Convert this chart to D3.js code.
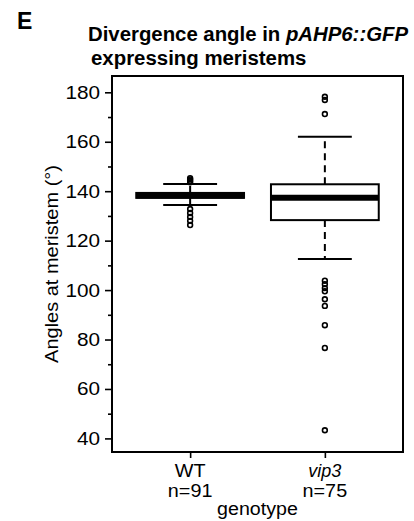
<!DOCTYPE html>
<html>
<head>
<meta charset="utf-8">
<script src="https://cdn.jsdelivr.net/npm/d3@7"></script>
<style>
  html, body { margin: 0; padding: 0; background: #fff; }
  svg { display: block; font-family: "Liberation Sans", Arial, Helvetica, sans-serif; }
</style>
</head>
<body>
<svg id="chart" width="414" height="521"></svg>
<script>
// ---- data ----
const categories = ["WT", "vip3"];
const sampleSizes = ["n=91", "n=75"];
const q1 = [137.3, 128.3];
const medians = [138.3, 137.4];
const q3 = [139.3, 142.8];
const whiskerLow = [134.4, 112.6];
const whiskerHigh = [142.9, 162.0];
const outliersWT = [143.6, 144.2, 144.8, 145.3, 132.8, 131.2, 129.6, 128.0, 126.3];
const outliersVip3 = [178.2, 176.9, 171.2, 103.8, 102.4, 100.8, 99.5, 96.3, 93.6, 85.8, 76.6, 43.3];
const yTicks = [40, 60, 80, 100, 120, 140, 160, 180];
const yMinorTicks = [50, 70, 90, 110, 130, 150, 170];

const outliers = [outliersWT, outliersVip3];

const svg = d3.select("#chart");
const pLeft = 112, pRight = 403, pTop = 76, pBottom = 452;

// widen text horizontally (reference glyphs are slightly wider than Arial)
function stretch(sel, k) {
  sel.each(function () {
    const w = this.getComputedTextLength();
    d3.select(this).attr("textLength", w * k).attr("lengthAdjust", "spacingAndGlyphs");
  });
}

const x = d3.scalePoint().domain(categories).range([pLeft, pRight]).padding(0.58);
const y = d3.scaleLinear().domain([34.5, 186.6]).range([pBottom, pTop]);
const half = x.step() * 0.4;
const capHalf = half * 0.5;

// panel letter and title
svg.append("text").attr("x", 17).attr("y", 29)
  .attr("font-size", 23).attr("font-weight", "bold").text("E");
const t1 = svg.append("text").attr("x", 88).attr("y", 41)
  .attr("font-size", 20).attr("font-weight", "bold")
  .attr("textLength", 320).attr("lengthAdjust", "spacingAndGlyphs");
t1.append("tspan").text("Divergence angle in ");
t1.append("tspan").attr("font-style", "italic").text("pAHP6::GFP");
const t2 = svg.append("text").attr("x", 91).attr("y", 65)
  .attr("font-size", 20).attr("font-weight", "bold")
  .text("expressing meristems");
stretch(t2, 1.02);

// boxes
const g = svg.append("g");
categories.forEach((c, i) => {
  const cx = x(c);
  g.append("line").attr("x1", cx).attr("x2", cx)
    .attr("y1", y(q3[i])).attr("y2", y(whiskerHigh[i]))
    .attr("stroke", "#000").attr("stroke-width", 2).attr("stroke-dasharray", "7,5");
  g.append("line").attr("x1", cx).attr("x2", cx)
    .attr("y1", y(q1[i])).attr("y2", y(whiskerLow[i]))
    .attr("stroke", "#000").attr("stroke-width", 2).attr("stroke-dasharray", "7,5");
  [whiskerHigh[i], whiskerLow[i]].forEach(v => {
    g.append("line").attr("x1", cx - capHalf).attr("x2", cx + capHalf)
      .attr("y1", y(v)).attr("y2", y(v))
      .attr("stroke", "#000").attr("stroke-width", 2);
  });
  g.append("rect").attr("x", cx - half).attr("width", 2 * half)
    .attr("y", y(q3[i])).attr("height", y(q1[i]) - y(q3[i]))
    .attr("fill", "#fff").attr("stroke", "#000").attr("stroke-width", 2);
  g.append("line").attr("x1", cx - half).attr("x2", cx + half)
    .attr("y1", y(medians[i])).attr("y2", y(medians[i]))
    .attr("stroke", "#000").attr("stroke-width", 6);
  g.selectAll(null).data(outliers[i]).enter().append("circle")
    .attr("cx", cx).attr("cy", d => y(d)).attr("r", 2.4)
    .attr("fill", "none").attr("stroke", "#000").attr("stroke-width", 1.6);
});

// frame
svg.append("rect").attr("x", pLeft).attr("y", pTop)
  .attr("width", pRight - pLeft).attr("height", pBottom - pTop)
  .attr("fill", "none").attr("stroke", "#000").attr("stroke-width", 2);

// y axis
const yAxis = svg.append("g").attr("transform", `translate(${pLeft},0)`)
  .call(d3.axisLeft(y).tickValues(yTicks).tickSize(7).tickPadding(5).tickFormat(d3.format("d")));
yAxis.select(".domain").remove();
yAxis.selectAll("line").attr("stroke", "#000").attr("stroke-width", 1.6);
yAxis.selectAll("text").attr("font-size", 18.5).attr("fill", "#000")
  .attr("font-family", "Liberation Sans, Arial, sans-serif");
stretch(yAxis.selectAll("text"), 1.12);
const yMinor = svg.append("g").attr("transform", `translate(${pLeft},0)`)
  .call(d3.axisLeft(y).tickValues(yMinorTicks).tickSize(4).tickFormat(""));
yMinor.select(".domain").remove();
yMinor.selectAll("line").attr("stroke", "#000").attr("stroke-width", 1.6);

// x axis
const xAxis = svg.append("g").attr("transform", `translate(0,${pBottom})`)
  .call(d3.axisBottom(x).tickSize(6).tickFormat(""));
xAxis.select(".domain").remove();
xAxis.selectAll("line").attr("stroke", "#000").attr("stroke-width", 1.6);

categories.forEach((c, i) => {
  const a = svg.append("text").attr("x", x(c)).attr("y", 477).attr("text-anchor", "middle")
    .attr("font-size", 18).attr("font-style", i === 1 ? "italic" : "normal").text(c);
  if (i === 0) stretch(a, 1.1);
  const b = svg.append("text").attr("x", x(c)).attr("y", 497).attr("text-anchor", "middle")
    .attr("font-size", 18).text(sampleSizes[i]);
  stretch(b, 1.1);
});
const gx = svg.append("text").attr("x", (pLeft + pRight) / 2).attr("y", 515).attr("text-anchor", "middle")
  .attr("font-size", 18).text("genotype");
stretch(gx, 1.09);

// y label
const yl = svg.append("text").attr("transform", `translate(58,264) rotate(-90)`)
  .attr("text-anchor", "middle").attr("font-size", 18).text("Angles at meristem (°)");
stretch(yl, 1.11);
</script>
</body>
</html>
